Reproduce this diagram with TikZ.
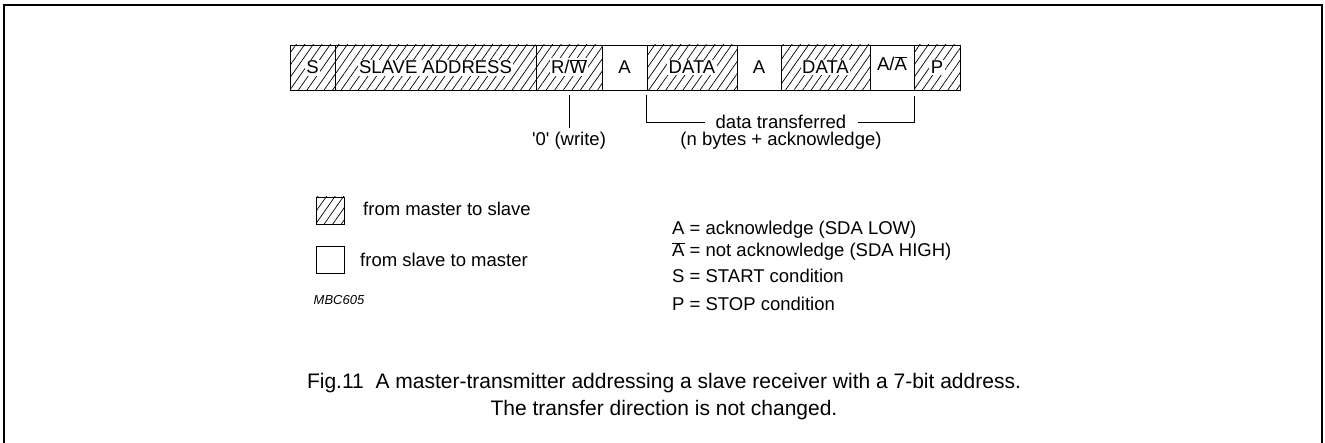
\documentclass[tikz,border=0pt]{standalone}
\usepackage{fontspec}
\setmainfont{Liberation Sans}
\usetikzlibrary{patterns.meta}
\tikzset{
  field/.style={draw, line width=0.8pt, minimum height=45pt, inner sep=0pt},
  master/.style={field, pattern={Lines[angle=55,distance=7pt,line width=0.7pt]}},
  slave/.style={field},
  ftext/.style={fill=white, inner sep=1.5pt, anchor=base, font=\fontsize{18.5}{22}\selectfont},
  note/.style={inner sep=0pt, font=\fontsize{18.5}{22}\selectfont},
}
\begin{document}
\begin{tikzpicture}[x=1pt, y=-1pt]
  \useasboundingbox (0,0) rectangle (1325,443);
  % frame
  \draw[line width=1.5pt] (4,450) -- (4,5) -- (1322,5) -- (1322,450);

  % the byte fields
  \node[master, minimum width=45pt] (s) at (312.5,67.5) {};
  \node[master, minimum width=201pt] (addr) at (435.5,67.5) {};
  \node[master, minimum width=66pt] (rw) at (569,67.5) {};
  \node[slave, minimum width=45pt] (ack1) at (624.5,67.5) {};
  \node[master, minimum width=90pt] (data1) at (692,67.5) {};
  \node[slave, minimum width=44pt] (ack2) at (759,67.5) {};
  \node[master, minimum width=89pt] (data2) at (825.5,67.5) {};
  \node[slave, minimum width=44pt] (ack3) at (892,67.5) {};
  \node[master, minimum width=46pt] (p) at (937,67.5) {};

  \node[ftext] at (312.5,74) {S};
  \node[ftext] at (435.5,74) {SLAVE ADDRESS};
  \node[ftext] at (569,74) {R/$\overline{\mbox{W}}$};
  \node[ftext] at (624.5,74) {A};
  \node[ftext] at (692,74) {DATA};
  \node[ftext] at (759,74) {A};
  \node[ftext] at (825.5,74) {DATA};
  \node[ftext] at (892,71) {A/$\overline{\mbox{A}}$};
  \node[ftext] at (937,74) {P};

  % write bit
  \node[note] (wr) at (569,141) {\textquotesingle0\textquotesingle\ (write)};
  \draw[line width=0.6pt] ([yshift=-5pt]rw.south) -- ([yshift=4pt]wr.north);

  % data bracket
  \node[note, inner xsep=11pt] (dt) at (781,122) {data transferred};
  \node[note] (nb) at (781,141) {(n bytes + acknowledge)};
  \draw[line width=0.6pt] ([yshift=-5pt]data1.south west) |- (dt.west);
  \draw[line width=0.6pt] ([yshift=-6pt]ack3.south east) |- (dt.east);

  % legend
  \node[master, minimum width=28pt, minimum height=27pt] (lm) at (330,210.5) {};
  \node[note, anchor=west] (lmt) at (363,209) {from master to slave};
  \node[slave, minimum width=28pt, minimum height=27pt] (ls) at (330,259.5) {};
  \node[note, anchor=west] (lst) at (360,260) {from slave to master};
  \node[inner sep=0pt, font=\fontsize{13}{15}\selectfont\itshape] (id) at (339,300) {MBC605};

  \node[note, anchor=base west] (k1) at (672,235) {A = acknowledge (SDA LOW)};
  \node[note, anchor=base west] (k2) at (672,257) {$\overline{\mbox{A}}$ = not acknowledge (SDA HIGH)};
  \node[note, anchor=base west] (k3) at (672,283) {S = START condition};
  \node[note, anchor=base west] (k4) at (672,311) {P = STOP condition};

  % caption
  \node[align=center, inner sep=0pt, font=\fontsize{21}{27}\selectfont] (cap) at (664,396.5)
    {Fig.11\ \ A master-transmitter addressing a slave receiver with a 7-bit address.\\
     The transfer direction is not changed.};
\end{tikzpicture}
\end{document}
